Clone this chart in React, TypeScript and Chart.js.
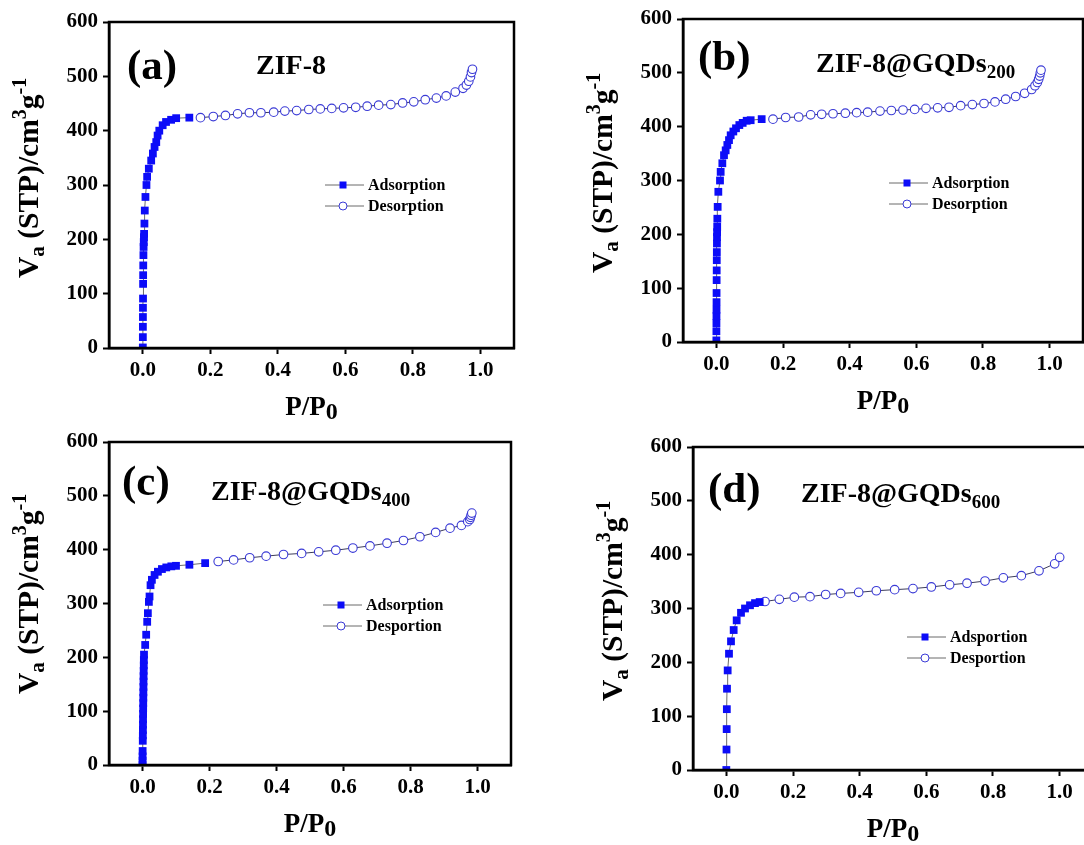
import React, { useEffect, useRef } from 'react';
import { Chart, registerables } from 'chart.js';

Chart.register(...registerables);

// ---------- data ----------
const X_TICKS = [0, 0.2, 0.4, 0.6, 0.8, 1.0];
const Y_STEP = 100;
const X_MIN = -0.1;
const X_MAX = 1.1;
const Y_MIN = 0;
const Y_MAX = 600;

// (a) ZIF-8
const aAdsX = [0.0002, 0.0003, 0.0004, 0.0005, 0.0006, 0.0008, 0.001, 0.0012, 0.0015, 0.002, 0.0025, 0.003, 0.0035, 0.004, 0.005, 0.006, 0.008, 0.011, 0.013, 0.018, 0.025, 0.03, 0.035, 0.04, 0.044, 0.049, 0.059, 0.069, 0.084, 0.099, 0.138];
const aAdsY = [1, 20, 39, 57, 74, 91, 118, 134, 152, 171, 186, 195, 204, 210, 229, 253, 278, 300, 315, 330, 345, 358, 370, 379, 391, 400, 410, 416, 420, 423, 424];
const aDesX = [0.171, 0.209, 0.245, 0.281, 0.316, 0.35, 0.388, 0.421, 0.456, 0.492, 0.526, 0.56, 0.595, 0.631, 0.665, 0.699, 0.735, 0.77, 0.803, 0.837, 0.87, 0.899, 0.926, 0.949, 0.959, 0.966, 0.971, 0.974, 0.977];
const aDesY = [424, 426, 428, 431, 433, 433, 434, 436, 437, 439, 440, 441, 442, 443, 445, 447, 448, 451, 453, 457, 460, 464, 471, 478, 484, 491, 499, 507, 513];

// (b) ZIF-8@GQDs200
const bAdsX = [0.0001, 0.0002, 0.0003, 0.0004, 0.0005, 0.0006, 0.0007, 0.0009, 0.0011, 0.0013, 0.0015, 0.0018, 0.002, 0.0023, 0.0026, 0.003, 0.004, 0.006, 0.011, 0.013, 0.018, 0.023, 0.028, 0.033, 0.038, 0.043, 0.051, 0.059, 0.069, 0.079, 0.091, 0.103, 0.136];
const bAdsY = [3, 20, 35, 48, 60, 74, 91, 115, 133, 152, 167, 183, 195, 204, 214, 229, 251, 279, 300, 316, 332, 347, 356, 366, 375, 384, 391, 397, 403, 407, 411, 412, 414];
const bDesX = [0.17, 0.208, 0.247, 0.283, 0.316, 0.35, 0.387, 0.421, 0.454, 0.491, 0.525, 0.56, 0.595, 0.629, 0.664, 0.698, 0.733, 0.768, 0.803, 0.836, 0.868, 0.898, 0.925, 0.946, 0.956, 0.963, 0.967, 0.97, 0.972, 0.974];
const bDesY = [414, 417, 418, 422, 423, 424, 425, 426, 427, 429, 430, 431, 432, 434, 435, 436, 439, 441, 443, 446, 451, 456, 462, 469, 476, 482, 488, 494, 500, 505];

// (c) ZIF-8@GQDs400
const cAdsX = [0.0001, 0.0002, 0.0003, 0.0004, 0.0008, 0.001, 0.0012, 0.0014, 0.0016, 0.0018, 0.002, 0.0022, 0.0024, 0.0026, 0.0028, 0.003, 0.0032, 0.0035, 0.0038, 0.004, 0.0045, 0.008, 0.011, 0.014, 0.016, 0.019, 0.021, 0.024, 0.028, 0.036, 0.046, 0.058, 0.071, 0.086, 0.1, 0.14, 0.187];
const cAdsY = [0, 8, 16, 26, 45, 55, 65, 75, 85, 95, 105, 115, 125, 135, 145, 155, 165, 175, 185, 195, 205, 223, 242, 266, 282, 303, 313, 334, 344, 353, 359, 364, 367, 369, 370, 372, 375];
const cDesX = [0.226, 0.272, 0.32, 0.369, 0.421, 0.475, 0.526, 0.577, 0.628, 0.679, 0.73, 0.779, 0.828, 0.875, 0.918, 0.952, 0.971, 0.977, 0.979, 0.981, 0.983];
const cDesY = [378, 381, 385, 388, 391, 393, 396, 399, 403, 407, 412, 417, 424, 432, 440, 445, 452, 456, 460, 464, 468];

// (d) ZIF-8@GQDs600
const dAdsX = [0, 0.0005, 0.001, 0.0015, 0.002, 0.004, 0.008, 0.014, 0.022, 0.031, 0.044, 0.056, 0.071, 0.086, 0.1];
const dAdsY = [0, 38, 76, 113, 151, 185, 216, 239, 260, 278, 292, 300, 306, 310, 312];
const dDesX = [0.116, 0.159, 0.204, 0.251, 0.298, 0.343, 0.397, 0.45, 0.505, 0.56, 0.615, 0.67, 0.722, 0.776, 0.831, 0.885, 0.938, 0.985, 1.0];
const dDesY = [313, 317, 321, 322, 326, 328, 330, 333, 335, 337, 340, 344, 347, 351, 357, 361, 370, 383, 395];

const PANEL_LETTERS = ['(a)', '(b)', '(c)', '(d)'];
const SAMPLE_NAMES = ['ZIF-8', 'ZIF-8@GQDs', 'ZIF-8@GQDs', 'ZIF-8@GQDs'];
const SAMPLE_SUBS = ['', '200', '400', '600'];
const ADS_LABELS = ['Adsorption', 'Adsorption', 'Adsorption', 'Adsportion'];
const DES_LABELS = ['Desorption', 'Desorption', 'Desportion', 'Desportion'];

const SERIES = [
  { adsX: aAdsX, adsY: aAdsY, desX: aDesX, desY: aDesY },
  { adsX: bAdsX, adsY: bAdsY, desX: bDesX, desY: bDesY },
  { adsX: cAdsX, adsY: cAdsY, desX: cDesX, desY: cDesY },
  { adsX: dAdsX, adsY: dAdsY, desX: dDesX, desY: dDesY },
];

// ---------- layout / style ----------
const FF = "'Liberation Serif', 'Times New Roman', serif";
const BLUE = 'rgb(12,12,248)';
const OPEN_BLUE = 'rgb(58,58,214)';
const LINE_GREY = '#6a6a6a';

const PAD_L = 110;
const PAD_T = 30;
const PAD_R = 12;
const PAD_B = 75;

// chart-area rectangles in page pixels and text offsets (relative to chart area)
const LAYOUT = [
  { left: 109, top: 22, right: 514, bottom: 348, letterDx: 18, letterDy: 57, nameDx: 147, nameDy: 52, legDx: 216, legDy: 163, yTitleDy: 256 },
  { left: 683, top: 19, right: 1083, bottom: 342, letterDx: 15, letterDy: 51, nameDx: 133, nameDy: 53, legDx: 206, legDy: 164, yTitleDy: 254 },
  { left: 109, top: 442, right: 511, bottom: 765, letterDx: 13, letterDy: 53, nameDx: 102, nameDy: 58, legDx: 214, legDy: 163, yTitleDy: 252 },
  { left: 693, top: 447, right: 1093, bottom: 770, letterDx: 15, letterDy: 55, nameDx: 108, nameDy: 55, legDx: 214, legDy: 190, yTitleDy: 254 },
];

type Seg = { text: string; size: number; dy?: number };

function segWidth(ctx: CanvasRenderingContext2D, segs: Seg[]) {
  let w = 0;
  for (const s of segs) {
    ctx.font = `bold ${s.size}px ${FF}`;
    w += ctx.measureText(s.text).width;
  }
  return w;
}

function drawRich(ctx: CanvasRenderingContext2D, segs: Seg[], x: number, y: number) {
  let cx = x;
  for (const s of segs) {
    ctx.font = `bold ${s.size}px ${FF}`;
    ctx.fillText(s.text, cx, y + (s.dy || 0));
    cx += ctx.measureText(s.text).width;
  }
}

const decorPlugin = {
  id: 'decor',
  afterDraw(chart: any, _args: any, opts: any) {
    const ctx: CanvasRenderingContext2D = chart.ctx;
    const ca = chart.chartArea;
    const L = opts.layout;
    ctx.save();
    // frame
    ctx.strokeStyle = '#000';
    ctx.lineWidth = 2.5;
    ctx.strokeRect(ca.left, ca.top, ca.right - ca.left, ca.bottom - ca.top);

    ctx.fillStyle = '#000';
    ctx.textAlign = 'left';
    ctx.textBaseline = 'alphabetic';

    // panel letter
    ctx.font = `bold 43px ${FF}`;
    ctx.fillText(opts.letter, ca.left + L.letterDx, ca.top + L.letterDy);

    // sample name
    const nameSegs: Seg[] = [{ text: opts.name, size: 28 }];
    if (opts.sub) nameSegs.push({ text: opts.sub, size: 19, dy: 6 });
    drawRich(ctx, nameSegs, ca.left + L.nameDx, ca.top + L.nameDy);

    // legend
    const lx = ca.left + L.legDx;
    const rows = [
      { y: ca.top + L.legDy, label: opts.adsLabel, kind: 'sq' },
      { y: ca.top + L.legDy + 21, label: opts.desLabel, kind: 'ci' },
    ];
    for (const r of rows) {
      ctx.strokeStyle = LINE_GREY;
      ctx.lineWidth = 1;
      ctx.beginPath();
      ctx.moveTo(lx, r.y);
      ctx.lineTo(lx + 39, r.y);
      ctx.stroke();
      const mx = lx + 18;
      if (r.kind === 'sq') {
        ctx.fillStyle = BLUE;
        ctx.fillRect(mx - 3.5, r.y - 3.5, 7, 7);
      } else {
        ctx.fillStyle = '#fff';
        ctx.strokeStyle = OPEN_BLUE;
        ctx.beginPath();
        ctx.arc(mx, r.y, 4, 0, Math.PI * 2);
        ctx.fill();
        ctx.stroke();
      }
      ctx.fillStyle = '#000';
      ctx.font = `bold 16px ${FF}`;
      ctx.textBaseline = 'middle';
      ctx.fillText(r.label, lx + 43, r.y + 1);
      ctx.textBaseline = 'alphabetic';
    }

    // x title
    const xSegs: Seg[] = [
      { text: 'P/P', size: 27 },
      { text: '0', size: 24, dy: 4 },
    ];
    const xw = segWidth(ctx, xSegs);
    drawRich(ctx, xSegs, (ca.left + ca.right) / 2 - xw / 2, ca.bottom + 67);

    // y title
    ctx.translate(ca.left - 71, ca.top + L.yTitleDy);
    ctx.rotate(-Math.PI / 2);
    const ySegs: Seg[] = [
      { text: 'V', size: 29.5 },
      { text: 'a', size: 21, dy: 6 },
      { text: ' (STP)/cm', size: 29.5 },
      { text: '3', size: 20, dy: -12 },
      { text: 'g', size: 29.5 },
      { text: '-1', size: 20, dy: -12 },
    ];
    drawRich(ctx, ySegs, 0, 0);
    ctx.restore();
  },
};

function Panel({ idx }: { idx: number }) {
  const ref = useRef<HTMLCanvasElement | null>(null);
  const L = LAYOUT[idx];
  const W = L.right - L.left + PAD_L + PAD_R;
  const H = L.bottom - L.top + PAD_T + PAD_B;

  useEffect(() => {
    const s = SERIES[idx];
    const ads = s.adsX.map((x, i) => ({ x, y: s.adsY[i] }));
    const des = s.desX.map((x, i) => ({ x, y: s.desY[i] }));
    const tickFont = { family: FF, size: 21, weight: 'bold' as const };
    const chart = new Chart(ref.current as HTMLCanvasElement, {
      type: 'scatter',
      data: {
        datasets: [
          {
            label: ADS_LABELS[idx],
            data: ads,
            showLine: true,
            borderColor: LINE_GREY,
            borderWidth: 1,
            pointStyle: 'rect',
            pointRadius: 5.5,
            pointBackgroundColor: BLUE,
            pointBorderColor: BLUE,
            pointBorderWidth: 0,
          },
          {
            label: DES_LABELS[idx],
            data: des,
            showLine: true,
            borderColor: '#3c3c5a',
            borderWidth: 1,
            pointStyle: 'circle',
            pointRadius: 4.3,
            pointBackgroundColor: '#fff',
            pointBorderColor: OPEN_BLUE,
            pointBorderWidth: 1.1,
          },
        ],
      },
      options: {
        responsive: false,
        animation: false,
        events: [],
        layout: { padding: { left: 0, top: PAD_T, right: PAD_R, bottom: 0 } },
        scales: {
          x: {
            type: 'linear',
            min: X_MIN,
            max: X_MAX,
            afterBuildTicks: (sc: any) => {
              sc.ticks = X_TICKS.map((v) => ({ value: v }));
            },
            afterFit: (sc: any) => {
              sc.height = PAD_B;
            },
            ticks: {
              callback: (v: any) => Number(v).toFixed(1),
              font: tickFont,
              color: '#000',
              padding: 4,
              maxRotation: 0,
              autoSkip: false,
            },
            grid: {
              display: true,
              drawOnChartArea: false,
              drawTicks: true,
              tickLength: 6,
              tickWidth: 2,
              tickColor: '#000',
            },
            border: { display: true, color: '#000', width: 2.5 },
          },
          y: {
            type: 'linear',
            min: Y_MIN,
            max: Y_MAX,
            afterFit: (sc: any) => {
              sc.width = PAD_L;
            },
            ticks: {
              stepSize: Y_STEP,
              font: tickFont,
              color: '#000',
              padding: 5,
            },
            grid: {
              display: true,
              drawOnChartArea: false,
              drawTicks: true,
              tickLength: 6,
              tickWidth: 2,
              tickColor: '#000',
            },
            border: { display: true, color: '#000', width: 2.5 },
          },
        },
        plugins: {
          legend: { display: false },
          tooltip: { enabled: false },
          decor: {
            layout: L,
            letter: PANEL_LETTERS[idx],
            name: SAMPLE_NAMES[idx],
            sub: SAMPLE_SUBS[idx],
            adsLabel: ADS_LABELS[idx],
            desLabel: DES_LABELS[idx],
          },
        } as any,
      },
      plugins: [decorPlugin],
    });
    return () => chart.destroy();
  }, [idx]);

  return (
    <canvas
      ref={ref}
      width={W}
      height={H}
      style={{
        position: 'absolute',
        left: L.left - PAD_L,
        top: L.top - PAD_T,
        width: W,
        height: H,
      }}
    />
  );
}

export default function App() {
  return (
    <div
      style={{
        position: 'absolute',
        left: 0,
        top: 0,
        width: 1084,
        height: 845,
        overflow: 'hidden',
        background: '#fff',
      }}
    >
      {[0, 1, 2, 3].map((i) => (
        <Panel key={i} idx={i} />
      ))}
    </div>
  );
}
